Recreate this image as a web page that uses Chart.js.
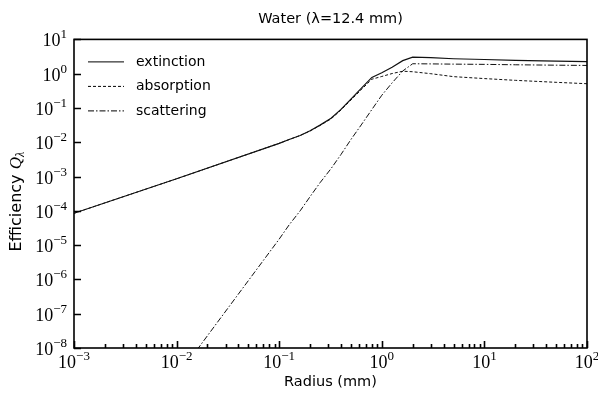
<!DOCTYPE html>
<html>
<head>
<meta charset="utf-8">
<script src="https://cdn.jsdelivr.net/npm/chart.js@4/dist/chart.umd.min.js"></script>
<style>
  html, body { margin: 0; padding: 0; background: #fff; }
</style>
</head>
<body>
<canvas id="chart" width="598" height="394"></canvas>
<script>
// radius in mm, efficiencies
const radius     = [0.001, 0.01, 0.1, 0.125, 0.16, 0.2, 0.25, 0.32, 0.4, 0.5, 0.63, 0.8, 1.0, 1.26, 1.6, 2.0, 3, 5, 10, 20, 50, 100];
const extinction = [8.5e-5, 8.6e-4, 9.3e-3, 0.012, 0.0158, 0.0216, 0.0316, 0.050, 0.091, 0.182, 0.372, 0.78, 1.07, 1.55, 2.4, 3.05, 2.93, 2.73, 2.59, 2.46, 2.33, 2.25];
const absorption = [8.5e-5, 8.6e-4, 9.3e-3, 0.012, 0.0158, 0.0213, 0.031, 0.048, 0.087, 0.170, 0.34, 0.69, 0.83, 1.01, 1.18, 1.14, 1.0, 0.82, 0.72, 0.64, 0.56, 0.51];
const scattering = [1.2e-13, 1.4e-9, 1.5e-5, 3.9e-5, 1.0e-4, 2.6e-4, 6.6e-4, 1.7e-3, 4.4e-3, 0.012, 0.032, 0.09, 0.235, 0.54, 1.2, 1.95, 1.93, 1.9, 1.87, 1.82, 1.77, 1.74];

const seriesNames = ['extinction', 'absorption', 'scattering'];
const seriesDash = [[], [3, 2], [6, 2, 1.5, 2]];
const xExps = [-3, -2, -1, 0, 1, 2];
const yExps = [1, 0, -1, -2, -3, -4, -5, -6, -7, -8];

const sansFont = '"DejaVu Sans", sans-serif';
const serifFont = '"Liberation Serif", serif';

function toPoints(ys) {
  return radius.map((r, i) => ({ x: r, y: ys[i] }));
}

// "10" with a raised exponent
function drawPow(ctx, exp, x, y, align) {
  const base = '10';
  const sup = exp < 0 ? '\u2212' + (-exp) : String(exp);
  ctx.font = '18px ' + serifFont;
  const wb = ctx.measureText(base).width;
  ctx.font = '13px ' + serifFont;
  const ws = ctx.measureText(sup).width;
  const left = align === 'right' ? x - wb - ws : x - (wb + ws) / 2;
  ctx.textAlign = 'left';
  ctx.textBaseline = 'alphabetic';
  ctx.font = '18px ' + serifFont;
  ctx.fillText(base, left, y);
  ctx.font = '13px ' + serifFont;
  ctx.fillText(sup, left + wb, y - 8);
}

const framePlugin = {
  id: 'frame',
  afterDraw(chart) {
    const { ctx, chartArea: a, scales: { x, y } } = chart;
    ctx.save();
    ctx.strokeStyle = '#000';
    ctx.fillStyle = '#000';
    ctx.lineWidth = 1.6;
    ctx.strokeRect(a.left, a.top, a.right - a.left, a.bottom - a.top);

    // x ticks, inward, with minor ticks
    ctx.beginPath();
    for (let i = 0; i < xExps.length; i++) {
      const e = xExps[i];
      for (let m = 1; m < 10; m++) {
        if (i === xExps.length - 1 && m > 1) break;
        const px = Math.round(x.getPixelForValue(m * Math.pow(10, e))) + 0.5;
        const len = m === 1 ? 7 : 4;
        ctx.moveTo(px, a.bottom);
        ctx.lineTo(px, a.bottom - len);
      }
    }
    // y ticks, inward, decades only
    yExps.forEach(e => {
      const py = Math.round(y.getPixelForValue(Math.pow(10, e))) + 0.5;
      ctx.moveTo(a.left, py);
      ctx.lineTo(a.left + 7, py);
    });
    ctx.stroke();

    xExps.forEach(e => drawPow(ctx, e, x.getPixelForValue(Math.pow(10, e)), a.bottom + 20, 'center'));
    yExps.forEach(e => drawPow(ctx, e, a.left - 7, y.getPixelForValue(Math.pow(10, e)) + 7, 'right'));

    // y axis title with italic Q and subscript lambda
    ctx.save();
    ctx.translate(17, (a.top + a.bottom) / 2 + 8);
    ctx.rotate(-Math.PI / 2);
    ctx.textBaseline = 'middle';
    ctx.textAlign = 'left';
    const t1 = 'Efficiency ';
    ctx.font = '16px ' + sansFont;
    const w1 = ctx.measureText(t1).width;
    ctx.font = 'italic 17px ' + serifFont;
    const w2 = ctx.measureText('Q').width;
    ctx.font = 'italic 12px ' + serifFont;
    const w3 = ctx.measureText('\u03bb').width;
    const sx = -(w1 + w2 + w3) / 2;
    ctx.font = '16px ' + sansFont;
    ctx.fillText(t1, sx, 0);
    ctx.font = 'italic 17px ' + serifFont;
    ctx.fillText('Q', sx + w1, 0);
    ctx.font = 'italic 12px ' + serifFont;
    ctx.fillText('\u03bb', sx + w1 + w2, 4);
    ctx.restore();

    // legend in upper left of the plot
    ctx.lineWidth = 1;
    ctx.font = '14px ' + sansFont;
    ctx.textBaseline = 'middle';
    ctx.textAlign = 'left';
    chart.data.datasets.forEach((ds, i) => {
      const ly = a.top + 22.5 + i * 24.5;
      ctx.beginPath();
      ctx.setLineDash(ds.borderDash);
      ctx.moveTo(a.left + 14, ly);
      ctx.lineTo(a.left + 50, ly);
      ctx.stroke();
      ctx.setLineDash([]);
      ctx.fillText(ds.label, a.left + 62, ly);
    });
    ctx.restore();
  }
};

const series = [extinction, absorption, scattering];

new Chart(document.getElementById('chart'), {
  type: 'line',
  data: {
    datasets: seriesNames.map((name, i) => ({
      label: name,
      data: toPoints(series[i]),
      borderColor: '#111',
      borderWidth: i === 0 ? 1.2 : 1,
      borderDash: seriesDash[i],
      pointRadius: 0,
      tension: 0,
      fill: false
    }))
  },
  options: {
    responsive: false,
    animation: false,
    devicePixelRatio: 1,
    layout: { padding: { left: 0, right: 11, top: 0, bottom: 0 } },
    plugins: {
      legend: { display: false },
      tooltip: { enabled: false },
      title: {
        display: true,
        fullSize: false,
        text: 'Water (\u03bb=12.4 mm)',
        color: '#000',
        font: { family: sansFont, size: 14.5, weight: 'normal' },
        padding: { top: 11, bottom: 11 }
      }
    },
    scales: {
      x: {
        type: 'logarithmic',
        min: 0.001,
        max: 100,
        grid: { display: false },
        border: { display: false },
        ticks: { display: false },
        title: {
          display: true,
          text: 'Radius (mm)',
          color: '#000',
          font: { family: sansFont, size: 14.5 },
          padding: { top: 0, bottom: 3 }
        },
        afterFit: s => { s.height = 46; }
      },
      y: {
        type: 'logarithmic',
        min: 1e-8,
        max: 10,
        grid: { display: false },
        border: { display: false },
        ticks: { display: false },
        afterFit: s => { s.width = 74; }
      }
    }
  },
  plugins: [framePlugin]
});
</script>
</body>
</html>
